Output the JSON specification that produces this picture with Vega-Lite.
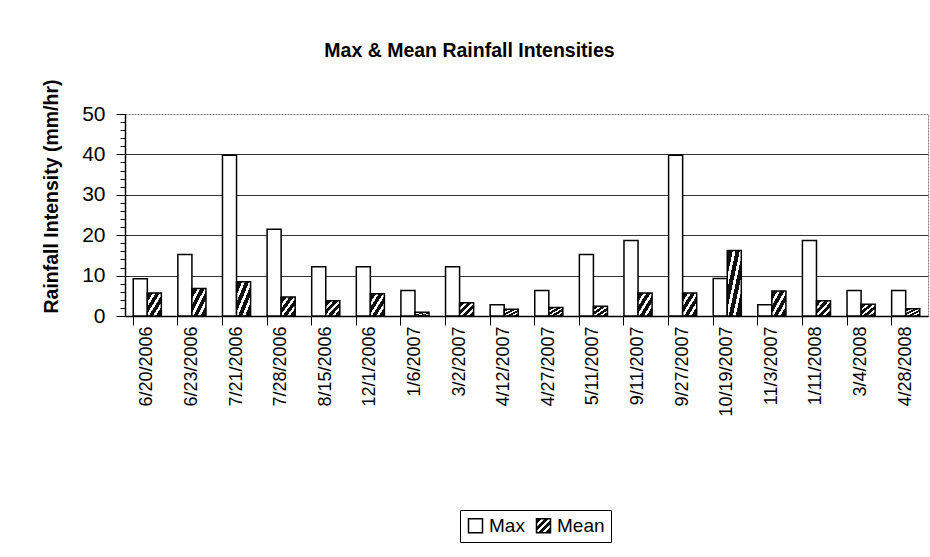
{
  "$schema": "https://vega.github.io/schema/vega-lite/v6.json",
  "width": 803,
  "height": 202,
  "autosize": {"type": "none"},
  "padding": {"left": 125, "top": 114, "right": 2, "bottom": 241},
  "background": "white",
  "config": {
    "font": "Liberation Sans",
    "view": {"stroke": "#777", "strokeDash": [2, 1], "strokeWidth": 1}
  },
  "title": {
    "text": "Max & Mean Rainfall Intensities",
    "fontSize": 19.5,
    "fontWeight": "bold",
    "color": "black",
    "anchor": "middle",
    "dx": -57,
    "baseline": "alphabetic",
    "offset": 2
  },
  "data": {
    "values": [
      {"date": "6/20/2006", "series": "Max", "value": 9.2},
      {"date": "6/20/2006", "series": "Mean", "value": 5.7},
      {"date": "6/23/2006", "series": "Max", "value": 15.2},
      {"date": "6/23/2006", "series": "Mean", "value": 6.8},
      {"date": "7/21/2006", "series": "Max", "value": 39.8},
      {"date": "7/21/2006", "series": "Mean", "value": 8.5},
      {"date": "7/28/2006", "series": "Max", "value": 21.5},
      {"date": "7/28/2006", "series": "Mean", "value": 4.7},
      {"date": "8/15/2006", "series": "Max", "value": 12.2},
      {"date": "8/15/2006", "series": "Mean", "value": 3.8},
      {"date": "12/1/2006", "series": "Max", "value": 12.2},
      {"date": "12/1/2006", "series": "Mean", "value": 5.5},
      {"date": "1/6/2007", "series": "Max", "value": 6.3},
      {"date": "1/6/2007", "series": "Mean", "value": 0.9},
      {"date": "3/2/2007", "series": "Max", "value": 12.2},
      {"date": "3/2/2007", "series": "Mean", "value": 3.3},
      {"date": "4/12/2007", "series": "Max", "value": 2.8},
      {"date": "4/12/2007", "series": "Mean", "value": 1.7},
      {"date": "4/27/2007", "series": "Max", "value": 6.3},
      {"date": "4/27/2007", "series": "Mean", "value": 2.1},
      {"date": "5/11/2007", "series": "Max", "value": 15.2},
      {"date": "5/11/2007", "series": "Mean", "value": 2.4},
      {"date": "9/11/2007", "series": "Max", "value": 18.7},
      {"date": "9/11/2007", "series": "Mean", "value": 5.7},
      {"date": "9/27/2007", "series": "Max", "value": 39.8},
      {"date": "9/27/2007", "series": "Mean", "value": 5.7},
      {"date": "10/19/2007", "series": "Max", "value": 9.3},
      {"date": "10/19/2007", "series": "Mean", "value": 16.2},
      {"date": "11/3/2007", "series": "Max", "value": 2.8},
      {"date": "11/3/2007", "series": "Mean", "value": 6.2},
      {"date": "1/11/2008", "series": "Max", "value": 18.7},
      {"date": "1/11/2008", "series": "Mean", "value": 3.8},
      {"date": "3/4/2008", "series": "Max", "value": 6.3},
      {"date": "3/4/2008", "series": "Mean", "value": 2.9},
      {"date": "4/28/2008", "series": "Max", "value": 6.3},
      {"date": "4/28/2008", "series": "Mean", "value": 1.8}
    ]
  },
  "layer": [
    {
      "mark": {"type": "bar", "opacity": 0},
      "encoding": {
        "x": {
          "field": "date",
          "type": "nominal",
          "sort": null,
          "scale": {"paddingInner": 0.37, "paddingOuter": 0.185},
          "axis": {
            "orient": "bottom",
            "bandPosition": 0,
            "labels": false,
            "domain": false,
            "ticks": true,
            "tickSize": 9,
            "tickColor": "black",
            "tickWidth": 1,
            "grid": false,
            "title": null
          }
        },
        "y": {
          "field": "value",
          "type": "quantitative",
          "scale": {"domain": [0, 50], "nice": false},
          "axis": {
            "orient": "left",
            "values": [0, 2, 4, 6, 8, 10, 12, 14, 16, 18, 20, 22, 24, 26, 28, 30, 32, 34, 36, 38, 40, 42, 44, 46, 48, 50],
            "labels": false,
            "domain": false,
            "grid": false,
            "ticks": true,
            "tickSize": 5,
            "tickColor": "black",
            "title": null
          }
        }
      }
    },
    {
      "mark": {"type": "bar", "stroke": "black", "strokeWidth": 1.5},
      "encoding": {
        "x": {
          "field": "date",
          "type": "nominal",
          "sort": null,
          "scale": {"paddingInner": 0.37, "paddingOuter": 0.185},
          "axis": {
            "orient": "bottom",
            "labelAngle": -90,
            "labelFontSize": 18,
            "labelColor": "black",
            "labelPadding": 10,
            "ticks": false,
            "domainColor": "black",
            "domainWidth": 1.5,
            "grid": false,
            "title": null
          }
        },
        "xOffset": {
          "field": "series",
          "type": "nominal",
          "scale": {"domain": ["Max", "Mean"], "paddingInner": 0, "paddingOuter": 0}
        },
        "y": {
          "field": "value",
          "type": "quantitative",
          "scale": {"domain": [0, 50], "nice": false},
          "axis": {
            "orient": "left",
            "values": [0, 10, 20, 30, 40, 50],
            "labelFontSize": 21,
            "labelColor": "black",
            "labelPadding": 11,
            "tickSize": 9,
            "tickColor": "black",
            "domainColor": "black",
            "domainWidth": 1.5,
            "grid": true,
            "gridColor": "#333",
            "gridOpacity": {"condition": {"test": "datum.value >= 50", "value": 0}, "value": 1},
            "title": "Rainfall Intensity (mm/hr)",
            "titleFontSize": 19.5,
            "titleFontWeight": "bold",
            "titleColor": "black",
            "titleAlign": "center",
            "titleBaseline": "alphabetic",
            "titleX": -68,
            "titleY": 82
          }
        },
        "color": {
          "field": "series",
          "type": "nominal",
          "scale": {
            "domain": ["Max", "Mean"],
            "range": [
              "white",
              {"expr": "{gradient:'linear', x1:0, y1:0, x2:1, y2:1, stops:[{offset:0,color:'#111'},{offset:0.2,color:'#111'},{offset:0.2,color:'white'},{offset:0.3,color:'white'},{offset:0.3,color:'#111'},{offset:0.45,color:'#111'},{offset:0.45,color:'white'},{offset:0.55,color:'white'},{offset:0.55,color:'#111'},{offset:0.7,color:'#111'},{offset:0.7,color:'white'},{offset:0.8,color:'white'},{offset:0.8,color:'#111'},{offset:1,color:'#111'}]}"}
            ]
          },
          "legend": {
            "orient": "none",
            "legendX": 335,
            "legendY": 396,
            "direction": "horizontal",
            "title": null,
            "strokeColor": "black",
            "padding": 6,
            "symbolType": "square",
            "symbolSize": 196,
            "symbolStrokeColor": "black",
            "symbolStrokeWidth": 1.5,
            "labelFontSize": 19,
            "labelColor": "black",
            "labelOffset": 4,
            "columnPadding": 8
          }
        }
      }
    }
  ],
  "resolve": {"axis": {"x": "independent", "y": "independent"}}
}
